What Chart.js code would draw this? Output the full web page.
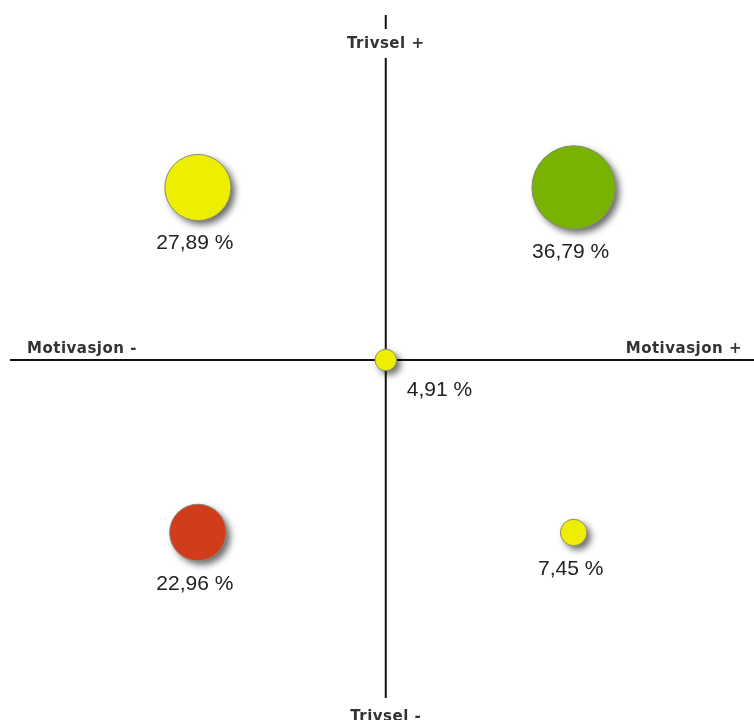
<!DOCTYPE html>
<html>
<head>
<meta charset="utf-8">
<script src="https://cdn.jsdelivr.net/npm/chart.js@4/dist/chart.umd.min.js"></script>
<style>
  body { margin: 0; background: #fff; }
  #wrap { width: 754px; height: 720px; }
</style>
</head>
<body>
<div id="wrap"><canvas id="quadrant-chart"></canvas></div>
<script>
// Motivasjon (x) og trivsel (y) per gruppe, andel i prosent
const motivasjon = [-50, 50, 0, -50, 50]
const trivsel = [50, 50, 0, -50, -50]
const andel = [27.89, 36.79, 4.91, 22.96, 7.45]
const farger = ['#eeee00', '#77b300', '#eeee00', '#d13d1a', '#eeee00']
const aksetekster = { top: 'Trivsel +', bottom: 'Trivsel -', left: 'Motivasjon -', right: 'Motivasjon +' }

const formatProsent = v => v.toFixed(2).replace('.', ',') + ' %'

const quadrantPlugin = {
  id: 'quadrant',
  beforeDatasetsDraw (chart) {
    const { ctx, chartArea, scales } = chart
    const x0 = scales.x.getPixelForValue(0)
    const y0 = scales.y.getPixelForValue(0)

    ctx.save()
    ctx.strokeStyle = '#111'
    ctx.lineWidth = 2
    ctx.beginPath()
    ctx.moveTo(chartArea.left, y0)
    ctx.lineTo(chartArea.right, y0)
    ctx.moveTo(x0, chartArea.top)
    ctx.lineTo(x0, chartArea.bottom)
    ctx.stroke()

    ctx.font = 'bold 15px "DejaVu Sans"'
    ctx.letterSpacing = '0.5px'
    ctx.textBaseline = 'middle'
    ctx.textAlign = 'center'
    // vertikale aksetekster bryter linjen
    ctx.fillStyle = '#fff'
    ctx.fillRect(x0 - 45, chartArea.top + 14, 90, 29)
    ctx.fillRect(x0 - 45, chartArea.bottom - 7, 90, 30)
    ctx.fillStyle = '#333'
    ctx.fillText(aksetekster.top, x0, chartArea.top + 29)
    ctx.fillText(aksetekster.bottom, x0, chartArea.bottom + 12)
    ctx.textAlign = 'left'
    ctx.fillText(aksetekster.left, chartArea.left + 17, y0 - 11)
    ctx.textAlign = 'right'
    ctx.fillText(aksetekster.right, chartArea.right - 12, y0 - 11)
    ctx.restore()

    // skygge bak boblene
    ctx.save()
    ctx.shadowColor = 'rgba(0, 0, 0, 0.6)'
    ctx.shadowBlur = 7
    ctx.shadowOffsetX = 4
    ctx.shadowOffsetY = 4
    chart.getDatasetMeta(0).data.forEach((el, i) => {
      ctx.fillStyle = farger[i]
      ctx.beginPath()
      ctx.arc(el.x, el.y, el.options.radius, 0, Math.PI * 2)
      ctx.fill()
    })
    ctx.restore()
  },
  afterDatasetsDraw (chart) {
    const { ctx } = chart
    ctx.save()
    ctx.font = '21px "Liberation Sans"'
    ctx.fillStyle = '#222'
    ctx.textBaseline = 'middle'
    chart.getDatasetMeta(0).data.forEach((el, i) => {
      const r = el.options.radius
      const tekst = formatProsent(andel[i])
      if (motivasjon[i] === 0 && trivsel[i] === 0) {
        ctx.textAlign = 'left'
        ctx.fillText(tekst, el.x + 21, el.y + 30)
      } else {
        ctx.textAlign = 'center'
        ctx.fillText(tekst, el.x - 3, el.y + r + 23)
      }
    })
    ctx.restore()
  }
}

// eslint-disable-next-line no-unused-vars, no-undef
const chart = new Chart(document.querySelector('#quadrant-chart'), {
  type: 'bubble',
  data: {
    datasets: [{
      data: andel.map((v, i) => ({ x: motivasjon[i], y: trivsel[i], r: 6 + 0.97 * v })),
      backgroundColor: farger,
      borderColor: '#8a8a7a',
      borderWidth: 1,
      hoverRadius: 0,
      clip: false
    }]
  },
  options: {
    responsive: true,
    maintainAspectRatio: false,
    animation: false,
    events: [],
    layout: { autoPadding: false, padding: { left: 10, right: 0, top: 15, bottom: 15 } },
    scales: {
      x: { display: false, min: -100, max: 98 },
      y: { display: false, min: -100, max: 100 }
    },
    plugins: {
      legend: { display: false },
      tooltip: { enabled: false }
    }
  },
  plugins: [quadrantPlugin]
})
</script>
</body>
</html>
